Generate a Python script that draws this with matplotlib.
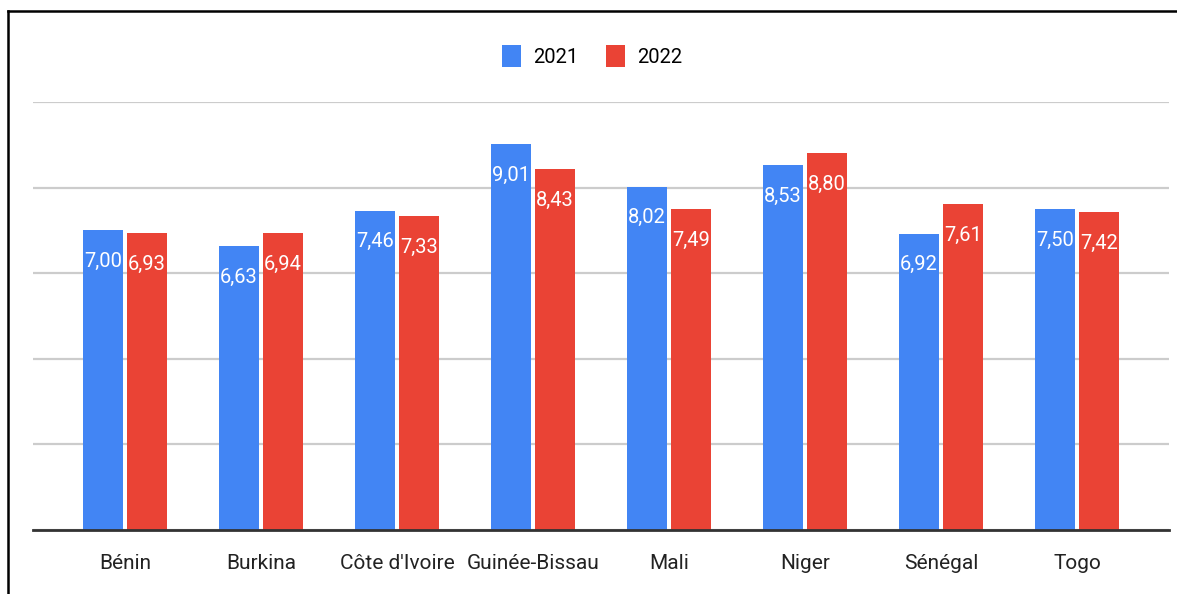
import numpy as np
import matplotlib.pyplot as plt
from matplotlib.lines import Line2D

# Données
pays = ["Bénin", "Burkina", "Côte d'Ivoire", "Guinée-Bissau", "Mali", "Niger", "Sénégal", "Togo"]
val_2021 = [7.00, 6.63, 7.46, 9.01, 8.02, 8.53, 6.92, 7.50]
val_2022 = [6.93, 6.94, 7.33, 8.43, 7.49, 8.80, 7.61, 7.42]
annees = ["2021", "2022"]

bleu = "#4285F4"
rouge = "#EA4335"
plt.rcParams['font.family'] = ["Roboto", "DejaVu Sans"]

fig = plt.figure(figsize=(11.77, 5.94), dpi=100)
ax = fig.add_axes([33 / 1177, 64 / 594, 1136 / 1177, 428 / 594])

x = np.arange(len(pays))
larg = 0.294
b1 = ax.bar(x - 0.162, val_2021, larg, color=bleu, label=annees[0], zorder=3)
b2 = ax.bar(x + 0.162, val_2022, larg, color=rouge, label=annees[1], zorder=3)

for barres, vals in [(b1, val_2021), (b2, val_2022)]:
    for b, v in zip(barres, vals):
        ax.annotate(f"{v:.2f}".replace(".", ","),
                    (b.get_x() + b.get_width() / 2, b.get_height()),
                    xytext=(0, -15.5), textcoords="offset points",
                    ha="center", va="top", color="white", fontsize=14.5, zorder=4)

ax.set_xlim(-0.676, 7.676)
ax.set_ylim(0, 10)
ax.set_yticks([0, 2, 4, 6, 8, 10])
ax.set_yticklabels([])
ax.set_xticks(x)
ax.set_xticklabels(pays, fontsize=15, color="#222222")
ax.tick_params(axis="both", length=0)
ax.tick_params(axis="x", pad=17)
ax.grid(axis="y", color="#cccccc", linewidth=1.6, zorder=0)
for s in ["top", "right", "left"]:
    ax.spines[s].set_visible(False)
ax.spines["bottom"].set_color("#333333")
ax.spines["bottom"].set_linewidth(2)
ax.spines["bottom"].set_zorder(5)

fig.legend(loc="center", bbox_to_anchor=(592 / 1177, 1 - 56 / 594), ncol=2,
           frameon=False, fontsize=14.5, handlelength=0.95, handleheight=1.25,
           handletextpad=0.6, columnspacing=1.4)

# Cadre
fig.add_artist(Line2D([8 / 1177, 1], [1 - 11 / 594] * 2, color="black", linewidth=1.8))
fig.add_artist(Line2D([8 / 1177] * 2, [0, 1 - 11 / 594], color="black", linewidth=1.8))

plt.savefig("out.png", dpi=100)
